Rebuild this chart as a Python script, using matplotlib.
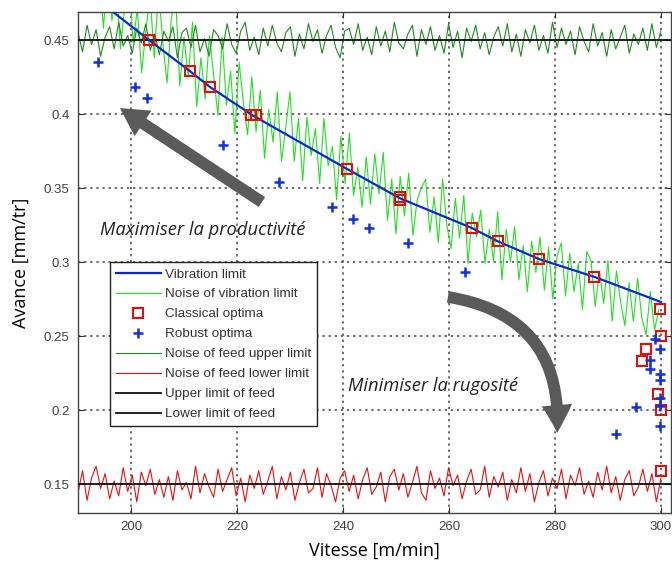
import numpy as np
import matplotlib
matplotlib.use("Agg")
import matplotlib.pyplot as plt
from matplotlib import font_manager
from matplotlib.ticker import FormatStrFormatter

# vibration limit (read at the classical optima)
VIB_X = [195.5, 203.4, 211.1, 215.0, 223.0, 240.7, 250.8, 264.3, 269.2, 277.0, 287.4, 300.0]
VIB_Y = [0.472, 0.450, 0.429, 0.418, 0.399, 0.363, 0.343, 0.323, 0.314, 0.302, 0.290, 0.273]

# noisy vibration limit, in thousandths of mm/tr, from x=194 to x=299.6
VIB_NOISE = [495, 458, 501, 463, 491, 444, 472, 495, 448, 471, 428, 456,
             480, 438, 485, 448, 421, 464, 481, 419, 452, 425, 462, 405, 438,
             410, 453, 426, 399, 452, 406, 429, 387, 435, 408, 386, 425, 388,
             416, 370, 403, 381, 415, 368, 391, 415, 368, 397, 355, 398, 372,
             390, 353, 397, 365, 378, 342, 385, 353, 387, 345, 364, 337, 371,
             339, 373, 346, 374, 328, 356, 319, 358, 331, 360, 318, 342, 350,
             356, 320, 344, 313, 356, 325, 309, 343, 316, 345, 299, 333, 317,
             335, 299, 322, 301, 334, 288, 322, 300, 324, 288, 311, 280, 314,
             293, 317, 281, 310, 275, 304, 313, 277, 306, 280, 299, 268, 307,
             301, 270, 294, 272, 301, 260, 294, 273, 257, 286, 260, 289, 262,
             251, 280, 254, 268]

CLASSIC_X = [203.4, 211.1, 215.0, 222.6, 223.5, 240.7, 250.8, 250.8, 264.3, 269.2,
             277.0, 287.4, 299.8, 300.0, 297.2, 296.4, 299.5, 300.0, 300.0]
CLASSIC_Y = [0.450, 0.429, 0.418, 0.399, 0.399, 0.363, 0.344, 0.342, 0.323, 0.314,
             0.302, 0.290, 0.268, 0.250, 0.241, 0.233, 0.211, 0.200, 0.159]

ROBUST_X = [193.7, 200.8, 203.0, 217.4, 228.0, 237.9, 241.9, 244.9, 252.3, 263.0,
            298.9, 299.9, 297.9, 297.9, 299.9, 299.9, 299.9, 299.9, 295.3, 299.9, 291.6]
ROBUST_Y = [0.435, 0.418, 0.411, 0.379, 0.354, 0.337, 0.329, 0.323, 0.313, 0.293,
            0.248, 0.241, 0.234, 0.228, 0.224, 0.220, 0.208, 0.203, 0.202, 0.189, 0.184]

UPPER_LIMIT = 0.45
LOWER_LIMIT = 0.15

# feed limit noise, offsets in thousandths, x from 190 to 300
UPPER_NOISE = [5, -8, 10, -3, 7, -11, 2, 9, -6, 12, -4, 3, -9, 8, -2, 11, -7, 4, -10, 6,
               -1, 9, -12, 5, 8, -5, 10, -8, 1, -11, 7, 3, -6, 11, -3, -9, 6, 12, -7, 2,
               -10, 8, -4, 10, -2, -8, 5, 9, -11, 4, -6, 11, -1, 7, -9, 3, 10, -5, -12, 6,
               8, -3, 11, -7, 2, -10, 9, -4, 6, -8, 12, -2, -6, 4, 10, -11, 7, -3, 9, -7,
               3, -9, 11, -5, 6, -12, 8, -1, 10, -6, 5, -10, 2, 9, -4, 11, -8, 4, -11, 7,
               -2, 10, -7, 3, -9, 12, -5, 8, -3, 6, -10, 9, -1, -8, 11, -4, 5, -11, 7, -6,
               2, 10, -9, 4, -3, 8, -7, 11, -5, 6]
LOWER_NOISE = [-6, 9, -11, 4, 12, -3, 7, -10, 2, -8, 11, -5, 6, -12, 8, -1, 10, -7, 3, -9,
               5, -11, 9, -4, 1, -10, 12, -6, 7, -2, -9, 10, -5, 3, 11, -8, 4, -12, 6, -3,
               9, -7, 2, 12, -10, 5, -4, 8, -11, 1, 10, -6, -3, 11, -9, 7, -1, -12, 4, 9,
               -5, 6, -10, 3, 11, -7, -2, 8, -12, 5, 10, -4, 7, -9, 1, 12, -6, -11, 9, -3,
               4, -8, 11, -1, 6, -10, 2, 10, -7, -4, 12, -9, 5, -2, 8, -11, 3, -6, 11, -5,
               7, -12, 1, 9, -8, 4, -3, 10, -10, 6, -1, 11, -7, 2, -9, 8, -4, 12, -6, 5,
               -11, 3, 9, -8, -2, 10, -5, 7, -12, 4]

XLIM = (190, 301.9)
YLIM = (0.1304, 0.4689)

# use an italic face file directly (fall back to DejaVu oblique)
italic_font = font_manager.FontProperties(family='DejaVu Sans', style='oblique', size=13.2)
found = False
for name in ('Open Sans', 'Lato', 'Noto Sans', 'Roboto', 'Liberation Sans'):
    for f in font_manager.fontManager.ttflist:
        if f.name == name and f.style in ('italic', 'oblique') and f.weight in (400, 'normal', 'regular'):
            italic_font = font_manager.FontProperties(fname=f.fname, size=13.2)
            found = True
            break
    if found:
        break

fig = plt.figure(figsize=(6.72, 5.65), dpi=100)
ax = fig.add_axes([0.1161, 0.0920, 0.8824, 0.8867])

vib_noise_x = np.linspace(194, 299.6, len(VIB_NOISE))
feed_x = np.linspace(190, 300, len(UPPER_NOISE))

h_noise_vib, = ax.plot(vib_noise_x, np.array(VIB_NOISE) / 1000, color='#22e022', lw=0.8, zorder=2)
h_up_noise, = ax.plot(feed_x, UPPER_LIMIT + np.array(UPPER_NOISE) / 1000, color='#1f8a1f', lw=0.8, zorder=2)
h_low_noise, = ax.plot(feed_x, LOWER_LIMIT + np.array(LOWER_NOISE) / 1000, color='#e81010', lw=0.8, zorder=2)
h_up, = ax.plot(XLIM, [UPPER_LIMIT, UPPER_LIMIT], color='#111111', lw=1.3, zorder=3)
h_low, = ax.plot(XLIM, [LOWER_LIMIT, LOWER_LIMIT], color='#111111', lw=1.3, zorder=3)
h_vib, = ax.plot(VIB_X, VIB_Y, color='#0a28d0', lw=1.6, zorder=4)
h_cl, = ax.plot(CLASSIC_X, CLASSIC_Y, 's', mfc='none', mec='#e01010', mew=1.5, ms=7.5, zorder=5)
h_rb, = ax.plot(ROBUST_X, ROBUST_Y, '+', color='#1030e0', mew=1.8, ms=7.5, zorder=5)

ax.set_xlim(*XLIM)
ax.set_ylim(*YLIM)
ax.set_xticks([200, 220, 240, 260, 280, 300])
ax.set_yticks([0.15, 0.2, 0.25, 0.3, 0.35, 0.4, 0.45])
ax.yaxis.set_major_formatter(FormatStrFormatter('%g'))
ax.tick_params(direction='in', length=4, top=True, right=True, labelsize=9.5,
               labelcolor='#404040', color='#333333', pad=6)
for lab in ax.get_xticklabels() + ax.get_yticklabels():
    lab.set_family('Liberation Sans')
for sp in ax.spines.values():
    sp.set_color('#444444')
    sp.set_linewidth(1.0)
ax.grid(True, linestyle=(0, (1.5, 2.5)), color='#444444', linewidth=1.1, zorder=1)
ax.set_axisbelow(True)

ax.set_xlabel('Vitesse [m/min]', family='Open Sans', fontsize=13, labelpad=6)
ax.set_ylabel('Avance [mm/tr]', family='Open Sans', fontsize=13, labelpad=10)

leg = ax.legend([h_vib, h_noise_vib, h_cl, h_rb, h_up_noise, h_low_noise, h_up, h_low],
                ['Vibration limit', 'Noise of vibration limit', 'Classical optima', 'Robust optima',
                 'Noise of feed upper limit', 'Noise of feed lower limit',
                 'Upper limit of feed', 'Lower limit of feed'],
                loc='upper left', bbox_to_anchor=(0.054, 0.501), borderaxespad=0,
                fancybox=False, framealpha=1, edgecolor='#222222', handlelength=3.3,
                handletextpad=0.35, labelspacing=0.56, borderpad=0.45,
                prop={'family': 'Liberation Sans', 'size': 9.7})
leg.get_frame().set_linewidth(1.0)
for t in leg.get_texts():
    t.set_color('#333333')

ax.text(194.2, 0.3216, 'Maximiser la productivité', fontproperties=italic_font,
        va='center', ha='left', color='#222222', zorder=6)
ax.text(240.9, 0.2162, 'Minimiser la rugosité', fontproperties=italic_font,
        va='center', ha='left', color='#222222', zorder=6)

arrow_style = 'simple,head_width=1.1,head_length=1.0,tail_width=0.42'
ax.annotate('', xy=(197.9, 0.404), xytext=(224.7, 0.3405),
            arrowprops=dict(arrowstyle=arrow_style, mutation_scale=20, color='#5a5a5a',
                            lw=0, shrinkA=0, shrinkB=0), zorder=6)
ax.annotate('', xy=(280.4, 0.1845), xytext=(259.8, 0.2764),
            arrowprops=dict(arrowstyle=arrow_style, mutation_scale=20, color='#5a5a5a',
                            lw=0, shrinkA=0, shrinkB=0, connectionstyle='arc3,rad=-0.45'),
            zorder=6)

fig.savefig('out.png', dpi=100)
